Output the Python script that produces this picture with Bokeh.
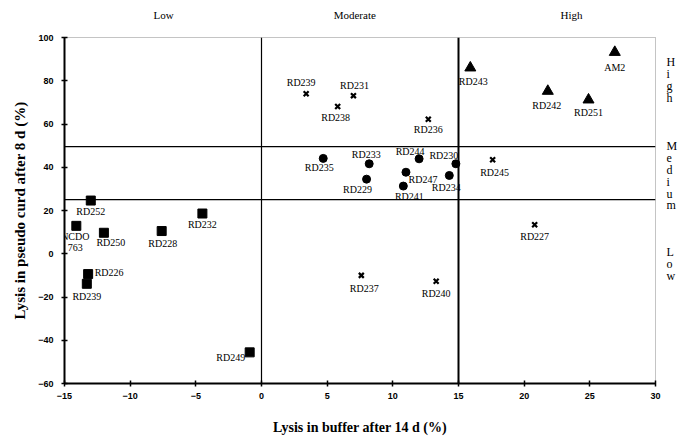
import math
from bokeh.plotting import figure
from bokeh.models import (ColumnDataSource, Span, FixedTicker, LinearAxis)
from bokeh.core.properties import value
from bokeh.embed import file_html
from bokeh.resources import INLINE

# ---- data ----
sq_names = ["RD252", "NCDO\n763", "RD250", "RD228", "RD232", "RD226", "RD239", "RD249"]
sq_x = [-13.0, -14.1, -12.0, -7.6, -4.5, -13.2, -13.3, -0.9]
sq_y = [24.6, 12.9, 9.7, 10.5, 18.6, -9.4, -13.9, -45.6]

x_names = ["RD239", "RD231", "RD238", "RD236", "RD245", "RD227", "RD237", "RD240"]
x_x = [3.4, 7.0, 5.8, 12.7, 17.6, 20.8, 7.6, 13.3]
x_y = [74.0, 73.1, 68.1, 62.2, 43.5, 13.4, -10.0, -12.7]

ci_names = ["RD235", "RD233", "RD229", "RD244", "RD230", "RD247", "RD234", "RD241"]
ci_x = [4.7, 8.2, 8.0, 12.0, 14.8, 11.0, 14.3, 10.8]
ci_y = [44.1, 41.6, 34.5, 43.9, 41.6, 37.7, 36.2, 31.3]

tr_names = ["RD243", "AM2", "RD242", "RD251"]
tr_x = [15.9, 26.9, 21.8, 24.9]
tr_y = [86.0, 93.2, 75.2, 71.2]

x_ticks = [-15, -10, -5, 0, 5, 10, 15, 20, 25, 30]
y_ticks = [-60, -40, -20, 0, 20, 40, 60, 80, 100]
x_split = [0, 15]
y_split = [25, 49.5]

col_headers = ["Low", "Moderate", "High"]
col_header_x = [-7.45, 7.1, 23.6]
row_headers = ["High", "Medium", "Low"]
row_header_top = [88.5, 49.6, 0.6]   # y of first letter

# label offsets (pixels, +y = up), layout only
sq_off = [(0, -11), (-1, -16), (7, -10), (1, -12), (0, -11), (21, 2), (0, -13), (-19, -5)]
x_off = [(-5, 11), (1, 10), (-2, -11), (0, -10), (2, -13), (0, -12), (3, -13), (0, -12)]
ci_off = [(-4, -9), (-3, 9), (-9, -10), (-9, 7), (-12, 8), (17, -7), (-3, -12), (6, -10)]
tr_off = [(3, -14), (0, -15), (-1, -14), (0, -13)]

p = figure(width=680, height=438, x_range=(-15, 30), y_range=(-60, 100),
           output_backend="svg", toolbar_location=None,
           min_border_left=64, min_border_right=24, min_border_top=37, min_border_bottom=55)
p.grid.visible = False
p.outline_line_color = "#888888"
p.outline_line_dash = "1 1"
p.outline_line_width = 1

for ax in (p.xaxis, p.yaxis):
    ax.axis_line_width = 2
    ax.axis_line_color = "black"
    ax.major_tick_in = 3
    ax.major_tick_out = 3
    ax.major_tick_line_width = 1.5
    ax.minor_tick_line_color = None
    ax.major_label_text_font = "Liberation Sans"
    ax.major_label_text_font_style = "bold"
    ax.major_label_text_font_size = "9px"
    ax.major_label_text_color = "black"
    ax.axis_label_text_font = "Liberation Serif"
    ax.axis_label_text_font_style = "bold"
    ax.axis_label_text_color = "black"
p.xaxis.ticker = FixedTicker(ticks=x_ticks)
p.yaxis.ticker = FixedTicker(ticks=y_ticks)
p.xaxis.major_label_standoff = 6
p.yaxis.major_label_standoff = 8
p.xaxis.axis_label = "Lysis in buffer after 14 d (%)"
p.xaxis.axis_label_text_font_size = "14px"
p.xaxis.axis_label_standoff = 18
p.yaxis.axis_label = "Lysis in pseudo curd after 8 d (%)"
p.yaxis.axis_label_text_font_size = "15px"
p.yaxis.axis_label_standoff = 7

def bare_axis(ticks, labels, standoff, size):
    ax = LinearAxis(ticker=FixedTicker(ticks=ticks),
                    major_label_overrides={t: s for t, s in zip(ticks, labels)})
    ax.axis_line_color = None
    ax.major_tick_line_color = None
    ax.minor_tick_line_color = None
    ax.major_tick_in = 0
    ax.major_tick_out = 0
    ax.major_label_standoff = standoff
    ax.major_label_text_font = "Liberation Serif"
    ax.major_label_text_font_size = size
    ax.major_label_text_color = "black"
    return ax

# column headers above the frame
p.add_layout(bare_axis(col_header_x, col_headers, 17, "11px"), "above")

# row headers as stacked letters to the right
step = 11.8 / 2.1625   # letter spacing, in data units
letter_y, letters = [], []
for word, y0 in zip(row_headers, row_header_top):
    for i, ch in enumerate(word):
        letter_y.append(round(y0 - i * step, 3))
        letters.append(ch)
right = bare_axis(letter_y, letters, 11, "12px")
right.major_label_text_align = "center"
p.add_layout(right, "right")

for xv, w in zip(x_split, [1.2, 2]):
    p.add_layout(Span(location=xv, dimension="height", line_color="black", line_width=w))
for yv in y_split:
    p.add_layout(Span(location=yv, dimension="width", line_color="black", line_width=1.2))

def add_group(names, xs, ys, offs, marker, size, **kw):
    src = ColumnDataSource(dict(x=xs, y=ys, name=names,
                                dx=[o[0] for o in offs], dy=[-o[1] for o in offs]))
    p.scatter("x", "y", source=src, marker=marker, size=size, color="black", **kw)
    p.text(x="x", y="y", text="name", source=src, x_offset="dx", y_offset="dy",
           text_align="center", text_baseline="middle",
           text_font=value("Liberation Serif"), text_font_size="10px",
           text_color="black", text_line_height=1.05)

add_group(sq_names, sq_x, sq_y, sq_off, "square", 9)
add_group(x_names, x_x, x_y, x_off, "x", 7, line_width=2.2)
add_group(ci_names, ci_x, ci_y, ci_off, "circle", 8)
add_group(tr_names, tr_x, tr_y, tr_off, "triangle", 11)

open("out.html", "w").write(file_html(p, INLINE))
